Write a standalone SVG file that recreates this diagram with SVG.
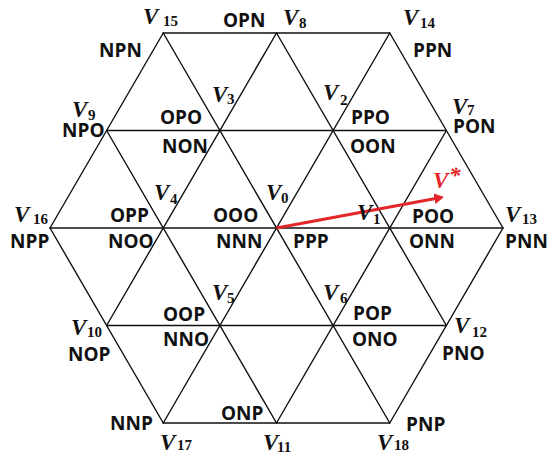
<svg xmlns="http://www.w3.org/2000/svg" width="547" height="455" viewBox="0 0 547 455">
<style>
.ln{stroke:#111;stroke-width:1.4;fill:none;stroke-linecap:round}
.lb{font-family:"Open Sans","Liberation Sans",sans-serif;font-weight:bold;font-size:19px;fill:#111}
.v{font-family:"Liberation Serif","DejaVu Serif",serif;font-weight:bold;font-style:italic;font-size:23px;fill:#111}
.s{font-family:"Liberation Serif","DejaVu Serif",serif;font-weight:bold;font-size:15px;fill:#111}
.red{fill:#e3262a}
</style>
<defs>
<marker id="ah" markerWidth="4" markerHeight="4" refX="2.2" refY="2" orient="auto" markerUnits="strokeWidth">
<path d="M0,0.2 L3.2,2 L0,3.8 Z" fill="#e3262a"/>
</marker>
</defs>
<rect width="547" height="455" fill="#fff"/>
<g id="connectors">
<path class="ln" d="M163.25,33 H389.75 M106.6,130.5 H446.4 M50,228 H503 M106.6,325.5 H446.4 M163.25,423 H389.75"/>
<path class="ln" d="M50,228 L163.25,33 M106.6,325.5 L276.5,33 M163.25,423 L389.75,33 M276.5,423 L446.4,130.5 M389.75,423 L503,228"/>
<path class="ln" d="M163.25,33 L389.75,423 M276.5,33 L446.4,325.5 M389.75,33 L503,228 M106.6,130.5 L276.5,423 M50,228 L163.25,423"/>
<line x1="276.5" y1="228" x2="441" y2="197.5" stroke="#e3262a" stroke-width="3" marker-end="url(#ah)"/>
</g>
<g id="vstar"><text class="v red" x="433" y="188" font-size="22">V</text><text class="v red" x="449" y="183" font-size="15">*</text></g>
<g id="V15"><text class="v" x="143" y="24">V</text><text class="s" x="163" y="26">15</text></g>
<g id="V8"><text class="v" x="283" y="25">V</text><text class="s" x="299" y="28">8</text></g>
<g id="V14"><text class="v" x="403" y="25">V</text><text class="s" x="420" y="28">14</text></g>
<g id="V3"><text class="v" x="212" y="102">V</text><text class="s" x="227" y="104">3</text></g>
<g id="V2"><text class="v" x="323" y="100">V</text><text class="s" x="340" y="105">2</text></g>
<g id="V9"><text class="v" x="72" y="117">V</text><text class="s" x="88" y="120">9</text></g>
<g id="V7"><text class="v" x="452" y="114">V</text><text class="s" x="467" y="115">7</text></g>
<g id="V4"><text class="v" x="154" y="200">V</text><text class="s" x="170" y="204">4</text></g>
<g id="V0"><text class="v" x="266" y="200">V</text><text class="s" x="281" y="203">0</text></g>
<g id="V16"><text class="v" x="14" y="222">V</text><text class="s" x="33" y="224">16</text></g>
<g id="V1"><text class="v" x="357" y="220">V</text><text class="s" x="373" y="224">1</text></g>
<g id="V13"><text class="v" x="505" y="222">V</text><text class="s" x="522" y="224">13</text></g>
<g id="V5"><text class="v" x="212" y="300">V</text><text class="s" x="227" y="303">5</text></g>
<g id="V6"><text class="v" x="323" y="300">V</text><text class="s" x="340" y="303">6</text></g>
<g id="V10"><text class="v" x="71" y="335">V</text><text class="s" x="87" y="337">10</text></g>
<g id="V12"><text class="v" x="454" y="333">V</text><text class="s" x="472" y="337">12</text></g>
<g id="V17"><text class="v" x="160" y="450">V</text><text class="s" x="177" y="450">17</text></g>
<g id="V11"><text class="v" x="263" y="450">V</text><text class="s" x="277" y="452">11</text></g>
<g id="V18"><text class="v" x="377" y="450">V</text><text class="s" x="394" y="450">18</text></g>
<g id="states">
<text class="lb" x="99" y="57">NPN</text>
<text class="lb" x="223" y="27">OPN</text>
<text class="lb" x="413" y="57">PPN</text>
<text class="lb" x="62" y="137">NPO</text>
<text class="lb" x="160" y="124">OPO</text>
<text class="lb" x="162" y="153">NON</text>
<text class="lb" x="351" y="124">PPO</text>
<text class="lb" x="350" y="153">OON</text>
<text class="lb" x="453" y="133">PON</text>
<text class="lb" x="110" y="222">OPP</text>
<text class="lb" x="213" y="222">OOO</text>
<text class="lb" x="412" y="223">POO</text>
<text class="lb" x="10" y="248">NPP</text>
<text class="lb" x="108" y="248">NOO</text>
<text class="lb" x="216" y="248">NNN</text>
<text class="lb" x="293" y="248">PPP</text>
<text class="lb" x="409" y="248">ONN</text>
<text class="lb" x="505" y="248">PNN</text>
<text class="lb" x="163" y="321">OOP</text>
<text class="lb" x="353" y="320">POP</text>
<text class="lb" x="163" y="346">NNO</text>
<text class="lb" x="352" y="346">ONO</text>
<text class="lb" x="68" y="361">NOP</text>
<text class="lb" x="442" y="360">PNO</text>
<text class="lb" x="221" y="420">ONP</text>
<text class="lb" x="110" y="430">NNP</text>
<text class="lb" x="406" y="431">PNP</text>
</g>
</svg>
